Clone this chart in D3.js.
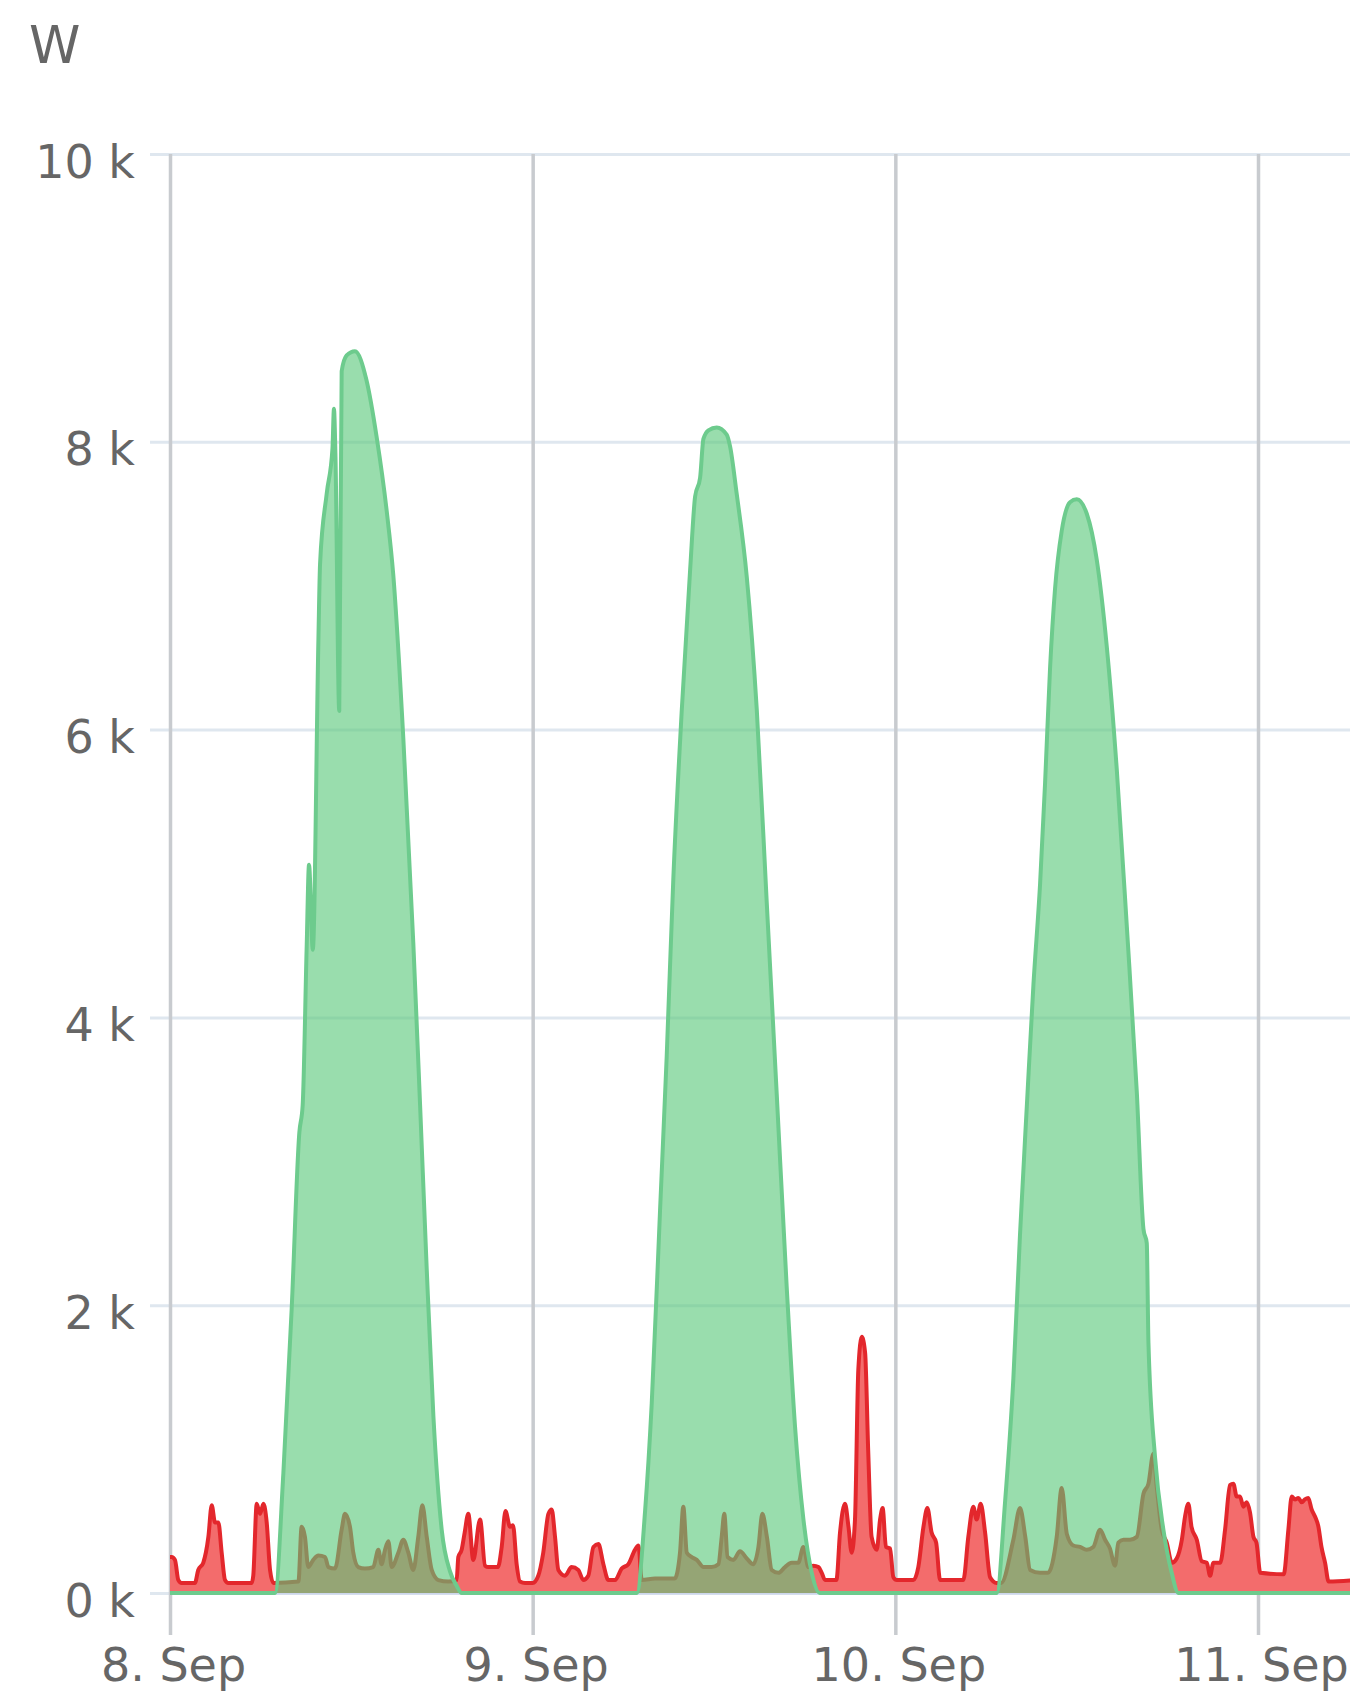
<!DOCTYPE html>
<html>
<head>
<meta charset="utf-8">
<script src="https://cdn.jsdelivr.net/npm/d3@7"></script>
<style>
  html, body { margin: 0; padding: 0; background: #fff; }
  svg { display: block; }
  text { font-family: "DejaVu Sans", "Liberation Sans", Arial, sans-serif; fill: #666666; }
</style>
</head>
<body>
<svg id="chart" width="1350" height="1703"></svg>
<script>
// ---------- DATA (hours after 8 Sep 00:00, watts) ----------
const unitLabel = "W";
const yTickValues = [0, 2000, 4000, 6000, 8000, 10000];
const xTickLabels = ["8. Sep", "9. Sep", "10. Sep", "11. Sep"];

// Production (green)
const greenHours = [0, 6.9,
  6.95, 7.5, 8.05, 8.56, 8.78, 9.04, 9.2, 9.45, 9.82, 9.93, 10.37, 10.75, 10.85, 10.95, 11.2, 11.36, 11.69, 12.24,
  13.0, 13.68, 14.34, 14.78, 15.44, 16.1, 16.55, 16.99, 17.43, 17.98, 18.53, 18.97, 19.3,
  30.85, 30.89, 31.44, 31.88, 32.43, 32.87, 33.31, 33.87, 34.42, 34.75, 35.08, 35.3, 35.63, 36.18, 36.84, 37.06,
  37.5, 38.17, 38.83, 39.49, 40.15, 40.81, 41.36, 41.92, 42.47, 43.0,
  54.7, 54.71, 55.26, 55.81, 56.25, 56.7, 57.14, 57.58, 57.91, 58.24, 58.57, 59.01, 59.56, 60.01, 60.67, 61.33,
  61.99, 62.65, 63.32, 63.98, 64.42, 64.64, 64.75, 65.19, 65.74, 66.29, 66.73, 78.5];
const greenValues = [0, 0,
  0, 830, 1970, 3200, 3390, 4470, 5060, 4470, 6620, 7150, 7640, 7950, 8230, 7900, 6130, 8490, 8600, 8630,
  8430, 8030, 7520, 7070, 5940, 4520, 3390, 2250, 1230, 440, 150, 50, 0,
  0, 0, 570, 1320, 2660, 3730, 4970, 6140, 7110, 7620, 7750, 8020, 8080, 8100, 8050, 7970,
  7640, 7060, 6140, 4800, 3470, 2130, 1160, 510, 140, 0,
  0, 0, 630, 1490, 2490, 3380, 4230, 4930, 5630, 6430, 6980, 7380, 7580, 7600, 7500, 7180,
  6580, 5730, 4630, 3480, 2530, 2430, 1740, 940, 440, 140, 0, 0];

// Consumption (red)
const redHours = [0, 0.11, 0.33, 0.55, 0.77, 1.65, 1.87, 2.2, 2.54, 2.76, 2.98, 3.2, 3.42, 3.64, 3.86, 5.4, 5.51, 5.74,
  5.96, 6.18, 6.4, 6.62, 6.84, 8.5, 8.71, 8.93, 9.15, 9.48, 9.82, 10.26, 10.48, 10.92, 11.36, 11.58, 11.91, 12.13,
  12.46, 12.9, 13.45, 13.79, 14.0, 14.23, 14.45, 14.67, 15.11, 15.44, 15.77, 16.1, 16.43, 16.7, 16.99, 17.32, 17.76,
  18.42, 18.97, 19.08, 19.3, 19.5, 19.74, 20.07, 20.52, 20.85, 21.07, 21.7, 21.95, 22.2, 22.5, 22.7, 22.94, 23.16,
  23.5, 24.0, 24.37, 24.7, 25.04, 25.26, 25.48, 25.7, 26.14, 26.58, 27.02, 27.35, 27.68, 28.02, 28.35, 28.68, 29.01,
  29.45, 29.89, 30.33, 30.77, 31.0, 31.22, 32.1, 33.4, 33.75, 33.97, 34.2, 34.53, 34.86, 35.3, 35.85, 36.29, 36.51,
  36.68, 36.9, 37.28, 37.72, 38.17, 38.6, 38.94, 39.2, 39.5, 39.82, 40.26, 40.7, 41.14, 41.58, 41.91, 42.25, 42.58,
  42.91, 43.13, 43.35, 44.1, 44.34, 44.67, 44.9, 45.11, 45.33, 45.55, 45.78, 46.0, 46.21, 46.43, 46.77, 46.99, 47.16,
  47.38, 47.65, 47.87, 48.1, 49.2, 49.52, 49.86, 50.12, 50.4, 50.7, 50.96, 52.5, 52.83, 53.16, 53.38, 53.65, 53.94,
  54.27, 54.7, 55.0, 55.81, 56.25, 56.6, 56.92, 57.58, 58.1, 58.68, 59.01, 59.35, 59.78, 60.22, 60.66, 61.1, 61.55,
  61.88, 62.2, 62.54, 62.76, 63.09, 63.53, 63.98, 64.42, 64.75, 65.08, 65.3, 65.63, 65.96, 66.3, 66.62, 66.96, 67.17,
  67.39, 67.6, 67.95, 68.28, 68.61, 68.83, 69.05, 69.5, 69.82, 70.15, 70.37, 70.59, 70.81, 71.03, 71.25, 71.47, 71.7,
  71.9, 72.15, 73.7, 74.01, 74.23, 74.45, 74.67, 74.9, 75.1, 75.33, 75.55, 75.78, 76.0, 76.2, 76.44, 76.67, 78.5];
const redValues = [250, 250, 230, 90, 70, 70, 160, 210, 390, 610, 490, 490, 280, 90, 70, 70, 120, 620,
  550, 620, 490, 160, 70, 80, 460, 390, 180, 230, 260, 250, 180, 170, 440, 550, 460, 280,
  180, 170, 180, 300, 200, 300, 360, 180, 280, 370, 280, 160, 390, 610, 390, 160, 90,
  80, 90, 250, 300, 420, 550, 230, 510, 190, 180, 180, 320, 570, 460, 470, 200, 80,
  70, 70, 120, 280, 550, 580, 390, 160, 120, 180, 160, 90, 120, 320, 340, 200, 90,
  90, 170, 200, 300, 330, 90, 100, 100, 280, 600, 280, 250, 230, 180, 180, 200, 390,
  550, 250, 230, 290, 240, 200, 320, 550, 390, 160, 140, 180, 210, 210, 320, 180, 190,
  180, 140, 90, 90, 420, 620, 460, 280, 510, 1550, 1780, 1670, 970, 390, 300, 510, 590,
  320, 310, 110, 90, 90, 180, 460, 590, 420, 350, 90, 90, 390, 600, 510, 620, 420,
  110, 70, 70, 370, 590, 390, 160, 140, 140, 390, 730, 410, 330, 320, 300, 320, 440,
  370, 310, 190, 350, 370, 370, 390, 690, 760, 970, 740, 440, 350, 210, 240, 370, 530,
  620, 460, 370, 220, 210, 120, 210, 210, 440, 750, 760, 670, 670, 600, 630, 560, 390,
  350, 140, 130, 440, 670, 650, 660, 630, 650, 660, 580, 530, 460, 320, 210, 80, 90];

// ---------- CHART ----------
const W = 1350, H = 1703;
const plot = { left: 170, right: 1350, top: 154, bottom: 1593 };
const start = new Date(2023, 8, 8, 0, 0, 0);
const toDate = h => new Date(start.getTime() + h * 3600 * 1000);

const x = d3.scaleTime()
  .domain([start, d3.timeDay.offset(start, 3)])
  .range([plot.left, 1258]);
const y = d3.scaleLinear().domain([0, 10000]).range([plot.bottom, plot.top]);

const svg = d3.select("#chart");
svg.append("rect").attr("width", W).attr("height", H).attr("fill", "#fff");

const defs = svg.append("defs");
defs.append("clipPath").attr("id", "clip")
  .append("rect").attr("x", plot.left).attr("y", 0)
  .attr("width", W - plot.left + 10).attr("height", plot.bottom + 6);

// Y axis with horizontal gridlines
const yAxis = d3.axisLeft(y)
  .tickValues(yTickValues)
  .tickSize(-(W - 150))
  .tickFormat(d => (d / 1000) + " k");
const gy = svg.append("g").attr("transform", "translate(150,0)").call(yAxis);
gy.select(".domain").remove();
gy.selectAll(".tick line").attr("stroke", "#dfe7ef").attr("stroke-width", 3);
gy.selectAll(".tick text")
  .attr("x", -15).attr("dy", null).attr("y", 23)
  .attr("text-anchor", "end")
  .style("font-size", "46px").style("fill", "#666666")
  .style("font-family", '"DejaVu Sans", "Liberation Sans", Arial, sans-serif');

// X axis with vertical gridlines
const xTicks = d3.timeDay.range(start, d3.timeDay.offset(start, 4));
const xAxis = d3.axisBottom(x)
  .tickValues(xTicks)
  .tickSize(1635 - plot.top)
  .tickFormat((d, i) => xTickLabels[i]);
const gx = svg.append("g").attr("transform", `translate(0,${plot.top})`).call(xAxis);
gx.select(".domain").remove();
gx.selectAll(".tick line").attr("stroke", "#c8cbcf").attr("stroke-width", 3.5);
gx.selectAll(".tick text")
  .attr("dy", null).attr("y", 1681 - plot.top).attr("x", 3)
  .style("font-size", "46px").style("fill", "#666666")
  .style("font-family", '"DejaVu Sans", "Liberation Sans", Arial, sans-serif');

// x-axis base line
svg.append("line")
  .attr("x1", plot.left).attr("x2", W)
  .attr("y1", y(0)).attr("y2", y(0))
  .attr("stroke", "#ccd6eb").attr("stroke-width", 3);

// Series
const redData = redHours.map((h, i) => ({ t: toDate(h), v: redValues[i] }));
const greenData = greenHours.map((h, i) => ({ t: toDate(h), v: greenValues[i] }));

const area = d3.area().x(d => x(d.t)).y0(y(0)).y1(d => y(d.v)).curve(d3.curveMonotoneX);
const line = d3.line().x(d => x(d.t)).y(d => y(d.v)).curve(d3.curveMonotoneX);

const series = svg.append("g").attr("clip-path", "url(#clip)");

series.append("path").datum(redData)
  .attr("d", area).attr("fill", "#f36c6c");
series.append("path").datum(redData)
  .attr("d", line).attr("fill", "none")
  .attr("stroke", "#e3272c").attr("stroke-width", 4).attr("stroke-linejoin", "round");

series.append("path").datum(greenData)
  .attr("d", area).attr("fill", "#5ac87b").attr("fill-opacity", 0.62);
series.append("path").datum(greenData)
  .attr("d", line).attr("fill", "none")
  .attr("stroke", "#6dcb8d").attr("stroke-width", 4).attr("stroke-linejoin", "round");

// Unit label
svg.append("text")
  .attr("x", 29).attr("y", 63)
  .style("font-size", "52px")
  .text(unitLabel);
</script>
</body>
</html>
